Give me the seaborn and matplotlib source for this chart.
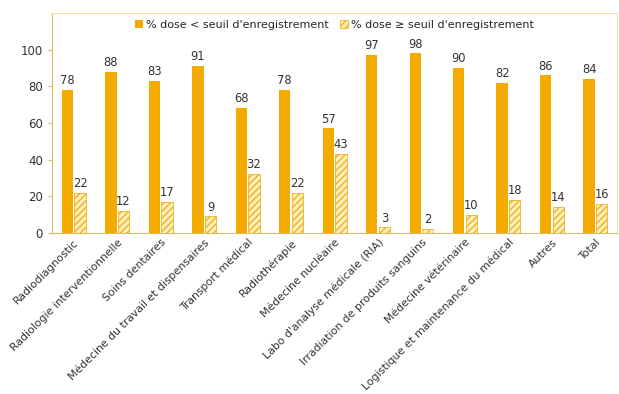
import matplotlib
matplotlib.use("Agg")
import matplotlib.pyplot as plt
import seaborn as sns
import pandas as pd
from matplotlib.patches import Patch

categories = [
    "Radiodiagnostic",
    "Radiologie interventionnelle",
    "Soins dentaires",
    "Médecine du travail et dispensaires",
    "Transport médical",
    "Radiothérapie",
    "Médecine nucléaire",
    "Labo d'analyse médicale (RIA)",
    "Irradiation de produits sanguins",
    "Médecine vétérinaire",
    "Logistique et maintenance du médical",
    "Autres",
    "Total",
]
below_threshold = [78, 88, 83, 91, 68, 78, 57, 97, 98, 90, 82, 86, 84]
above_threshold = [22, 12, 17, 9, 32, 22, 43, 3, 2, 10, 18, 14, 16]
series_names = ["% dose < seuil d'enregistrement", "% dose ≥ seuil d'enregistrement"]
y_ticks = [0, 20, 40, 60, 80, 100]

ORANGE = "#F5AA00"
LIGHT = "#FFF0BC"
HATCH = "#F0B020"
AXIS = "#D9B96A"

df = pd.DataFrame({
    "cat": categories * 2,
    "val": below_threshold + above_threshold,
    "serie": [series_names[0]] * len(categories) + [series_names[1]] * len(categories),
})

sns.set_style("white")
plt.rcParams["font.family"] = ["DejaVu Sans"]
plt.rcParams["hatch.linewidth"] = 1.0

fig = plt.figure(figsize=(6.19, 3.94), dpi=100)
ax = fig.add_axes([0.084, 0.409, 0.913, 0.558])

sns.barplot(data=df, x="cat", y="val", hue="serie", order=categories,
            hue_order=series_names, palette=[ORANGE, LIGHT],
            width=0.58, gap=0.1, ax=ax, legend=False, saturation=1)

for i, cont in enumerate(ax.containers):
    for bar in cont:
        bar.set_linewidth(0)
        if i == 1:
            bar.set_facecolor(LIGHT)
            bar.set_edgecolor(HATCH)
            bar.set_hatch("/////")
            bar.set_linewidth(0.6)
    ax.bar_label(cont, fmt="%d", padding=2, fontsize=8.3, color="#333333")

ax.set_ylim(0, 120)
ax.set_yticks(y_ticks)
ax.set_xlim(-0.5, len(categories) - 0.5)
ax.set_xlabel("")
ax.set_ylabel("")

ax.set_xticks(range(len(categories)))
ax.set_xticklabels(categories, rotation=45, ha="right", rotation_mode="anchor",
                   fontsize=7.8, color="#333333")
ax.tick_params(axis="x", which="major", length=0, pad=3)
ax.set_xticks([i - 0.5 for i in range(len(categories) + 1)], minor=True)
ax.tick_params(axis="x", which="minor", length=3, color=AXIS, width=0.8, direction="out")
ax.tick_params(axis="y", length=3, color=AXIS, width=0.8, direction="out",
               labelsize=8.5, labelcolor="#333333", left=True)

for side in ["left", "bottom", "top", "right"]:
    ax.spines[side].set_visible(True)
    ax.spines[side].set_linewidth(0.8)
for side in ["left", "bottom"]:
    ax.spines[side].set_color(AXIS)
for side in ["top", "right"]:
    ax.spines[side].set_color("#F3DFA8")

handles = [
    Patch(facecolor=ORANGE, edgecolor=ORANGE, linewidth=0),
    Patch(facecolor=LIGHT, edgecolor=HATCH, hatch="/////", linewidth=0.6),
]
ax.legend(handles, series_names, loc="upper center", bbox_to_anchor=(0.5, 1.0),
          ncol=2, frameon=False, fontsize=8, handlelength=0.7, handleheight=0.7,
          handletextpad=0.3, columnspacing=1.0, borderaxespad=0.25)

fig.savefig("out.png", dpi=100)
